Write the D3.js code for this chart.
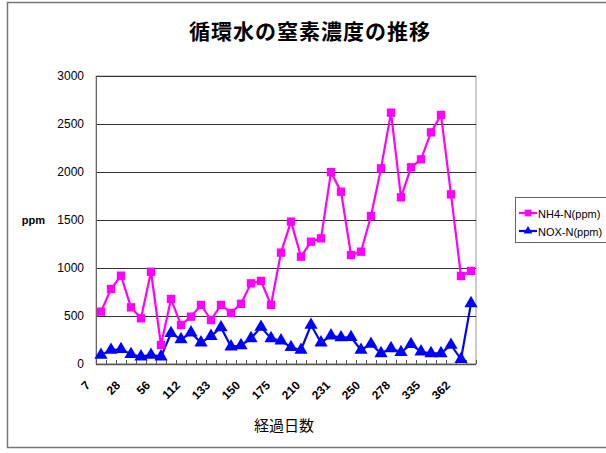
<!DOCTYPE html>
<html>
<head>
<meta charset="utf-8">
<script src="https://cdn.jsdelivr.net/npm/d3@7"></script>
<style>
  body { margin: 0; background: #fff; }
  svg { display: block; font-family: Arial, "Liberation Sans", sans-serif; }
</style>
</head>
<body>
<script>
// ticks shown every 3rd category
var dayLabels = ["7", "28", "56", "112", "133", "150", "175", "210", "231", "250", "278", "335", "362"];
var labelEvery = 3;

var nh4 = [545, 781, 920, 590, 476, 961, 198, 677, 406, 493, 615, 458, 615, 532,
    627, 840, 865, 615, 1160, 1483, 1118, 1274, 1309, 1998, 1795, 1135, 1170, 1542,
    2038, 2618, 1736, 2049, 2132, 2413, 2594, 1767, 917, 969];
var nox = [94, 146, 153, 101, 76, 94, 76, 320, 257, 326, 222, 290, 380, 181,
    193, 267, 385, 267, 243, 174, 146, 406, 222, 295, 276, 278, 146, 208,
    111, 163, 122, 205, 128, 111, 111, 198, 49, 632];

var yTicks = [0, 500, 1000, 1500, 2000, 2500, 3000];

var width = 606, height = 453;
var svg = d3.select("body").append("svg")
    .attr("width", width)
    .attr("height", height);

// outer chart frame
svg.append("rect")
    .attr("x", 7.5).attr("y", 2.5)
    .attr("width", 610).attr("height", 445)
    .attr("fill", "#fff")
    .attr("stroke", "#777")
    .attr("stroke-width", 1.5);

var plot = { left: 96, right: 476, top: 76, bottom: 364 };

var x = d3.scaleBand()
    .domain(d3.range(nh4.length))
    .range([plot.left, plot.right])
    .paddingInner(0).paddingOuter(0);

var y = d3.scaleLinear()
    .domain([0, 3000])
    .range([plot.bottom, plot.top]);

// plot area border
svg.append("rect")
    .attr("x", plot.left).attr("y", plot.top)
    .attr("width", plot.right - plot.left)
    .attr("height", plot.bottom - plot.top)
    .attr("fill", "#fff")
    .attr("stroke", "#999")
    .attr("stroke-width", 1);

// gridlines
svg.append("g")
    .selectAll("line")
    .data(yTicks.filter(function(d) { return d > 0; }))
    .enter().append("line")
    .attr("x1", plot.left).attr("x2", plot.right)
    .attr("y1", function(d) { return Math.round(y(d)) + 0.5; })
    .attr("y2", function(d) { return Math.round(y(d)) + 0.5; })
    .attr("stroke", "#333")
    .attr("stroke-width", 1.2);

// y axis
var yAxis = svg.append("g")
    .attr("transform", "translate(" + plot.left + ",0)")
    .call(d3.axisLeft(y).tickValues(yTicks).tickFormat(d3.format("d")).tickSize(0).tickPadding(12));
yAxis.select(".domain").attr("stroke", "#666");
yAxis.selectAll("text")
    .style("font-size", "12px")
    .style("fill", "#000");

// x axis
var xAxis = svg.append("g")
    .attr("transform", "translate(0," + plot.bottom + ")");
xAxis.append("line")
    .attr("x1", plot.left).attr("x2", plot.right)
    .attr("y1", 0.5).attr("y2", 0.5)
    .attr("stroke", "#555")
    .attr("stroke-width", 1.5);
xAxis.selectAll(".tk")
    .data(d3.range(nh4.length + 1))
    .enter().append("line")
    .attr("class", "tk")
    .attr("x1", function(i) { return plot.left + i * x.bandwidth() + 0.5; })
    .attr("x2", function(i) { return plot.left + i * x.bandwidth() + 0.5; })
    .attr("y1", 0).attr("y2", -4)
    .attr("stroke", "#555");

xAxis.selectAll(".lbl")
    .data(dayLabels)
    .enter().append("text")
    .attr("class", "lbl")
    .attr("text-anchor", "end")
    .attr("transform", function(d, i) {
        var cx = x(i * labelEvery) + x.bandwidth() / 2 - 10;
        return "translate(" + cx + ",22) rotate(-45)";
    })
    .style("font-size", "12px")
    .style("font-weight", "bold")
    .text(function(d) { return d; });

// axis titles
svg.append("text")
    .attr("x", 45).attr("y", y(1500) + 4)
    .attr("text-anchor", "end")
    .style("font-size", "11px")
    .style("font-weight", "bold")
    .text("ppm");

svg.append("text")
    .attr("x", 284).attr("y", 431)
    .attr("text-anchor", "middle")
    .style("font-family", "'Noto Sans CJK JP', sans-serif")
    .style("font-size", "15px")
    .text("経過日数");

svg.append("text")
    .attr("x", 310).attr("y", 39)
    .attr("text-anchor", "middle")
    .style("font-family", "'Noto Sans CJK JP', sans-serif")
    .style("font-size", "21px")
    .style("font-weight", "bold")
    .style("letter-spacing", "1px")
    .text("循環水の窒素濃度の推移");

// series
var cx = function(d, i) { return x(i) + x.bandwidth() / 2; };
var line = d3.line()
    .x(cx)
    .y(function(d) { return y(d); });

svg.append("path")
    .datum(nh4)
    .attr("fill", "none")
    .attr("stroke", "#ff00ff")
    .attr("stroke-width", 2.2)
    .attr("d", line);

svg.append("path")
    .datum(nox)
    .attr("fill", "none")
    .attr("stroke", "#0000ff")
    .attr("stroke-width", 2.2)
    .attr("d", line);

var sq = d3.symbol().type(d3.symbolSquare).size(70);
var tri = d3.symbol().type(d3.symbolTriangle).size(75);

svg.append("g")
    .selectAll("path")
    .data(nh4)
    .enter().append("path")
    .attr("d", sq)
    .attr("transform", function(d, i) { return "translate(" + cx(d, i) + "," + y(d) + ")"; })
    .attr("fill", "#ff00ff");

svg.append("g")
    .selectAll("path")
    .data(nox)
    .enter().append("path")
    .attr("d", tri)
    .attr("transform", function(d, i) { return "translate(" + cx(d, i) + "," + y(d) + ")"; })
    .attr("fill", "#0000ff");

// legend
var legend = svg.append("g");
legend.append("rect")
    .attr("x", 515.5).attr("y", 197.5)
    .attr("width", 100).attr("height", 45)
    .attr("fill", "#fff")
    .attr("stroke", "#666");

var legendItems = [
    { name: "NH4-N(ppm)", color: "#ff00ff", sym: sq },
    { name: "NOX-N(ppm)", color: "#0000ff", sym: d3.symbol().type(d3.symbolTriangle).size(50) }
];
var li = legend.selectAll(".li")
    .data(legendItems)
    .enter().append("g")
    .attr("transform", function(d, i) { return "translate(0," + (213 + i * 18) + ")"; });
li.append("line")
    .attr("x1", 519).attr("x2", 537)
    .attr("stroke", function(d) { return d.color; })
    .attr("stroke-width", 2.2);
li.append("path")
    .attr("d", function(d) { return d.sym(); })
    .attr("transform", "translate(528,0) scale(0.8)")
    .attr("fill", function(d) { return d.color; });
li.append("text")
    .attr("x", 538).attr("y", 4.5)
    .style("font-size", "11px")
    .text(function(d) { return d.name; });
</script>
</body>
</html>
